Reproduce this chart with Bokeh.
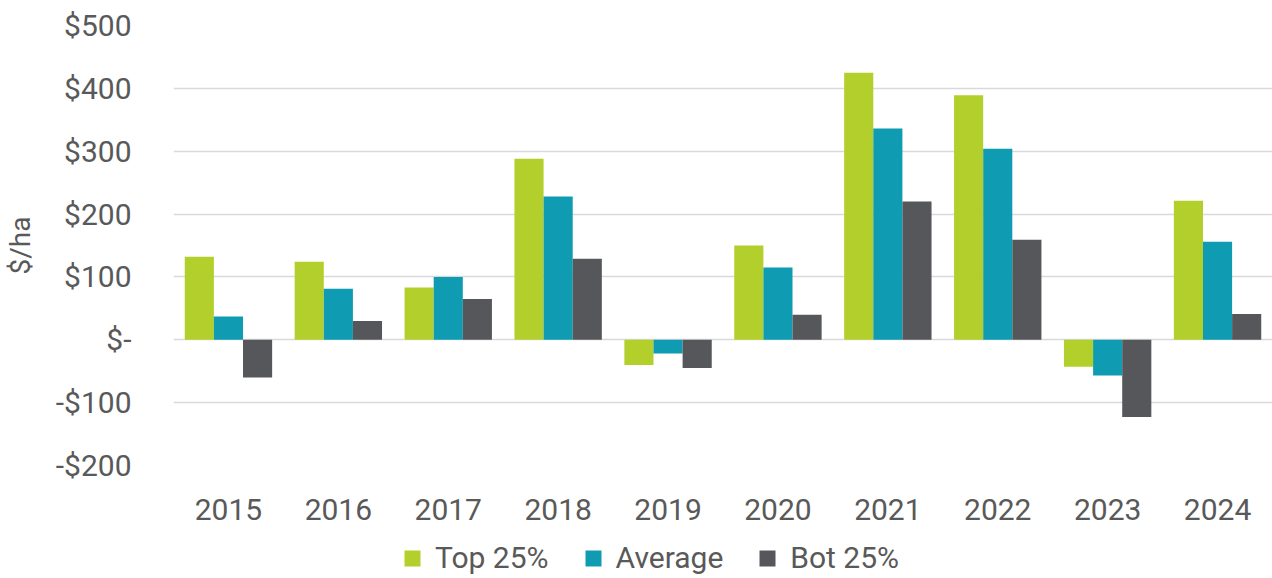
from bokeh.plotting import figure
from bokeh.layouts import column
from bokeh.models import ColumnDataSource, FactorRange, Legend, LegendItem, CustomJSTickFormatter, FixedTicker, Range1d
from bokeh.transform import dodge
from bokeh.embed import file_html
from bokeh.resources import INLINE

years = ["2015", "2016", "2017", "2018", "2019", "2020", "2021", "2022", "2023", "2024"]
top25 = [132, 124, 83, 288, -40, 150, 425, 389, -43, 221]
average = [37, 81, 100, 228, -22, 115, 336, 304, -57, 156]
bot25 = [-60, 30, 65, 129, -45, 40, 220, 159, -123, 41]
series_names = ["Top 25%", "Average", "Bot 25%"]
y_ticks = [-200, -100, 0, 100, 200, 300, 400, 500]

colors = ["#B3CF2B", "#0F9CB2", "#55575A"]
text_color = "#595959"
font = "Roboto"

src = ColumnDataSource(dict(year=years, top=top25, avg=average, bot=bot25))

p = figure(x_range=FactorRange(*years), y_range=Range1d(-200, 500),
           frame_width=1099, frame_height=440, output_backend="svg", toolbar_location=None,
           min_border_left=173, min_border_right=0, min_border_top=25, min_border_bottom=60)

bw = 0.265
for field, off, c in zip(["top", "avg", "bot"], [-bw, 0, bw], colors):
    p.vbar(x=dodge("year", off, range=p.x_range), top=field, bottom=0, width=bw,
           source=src, fill_color=c, line_color=None)

p.outline_line_color = None
p.background_fill_color = "white"
p.border_fill_color = "white"

p.xgrid.visible = False
p.ygrid.grid_line_color = "#D9D9D9"
p.ygrid.grid_line_width = 1.5

p.yaxis.ticker = FixedTicker(ticks=y_ticks)
p.yaxis.formatter = CustomJSTickFormatter(code="""
if (tick == 0) { return "$-"; }
if (tick < 0) { return "-$" + Math.abs(tick); }
return "$" + tick;
""")
for ax in [p.xaxis[0], p.yaxis[0]]:
    ax.axis_line_color = None
    ax.major_tick_line_color = None
    ax.minor_tick_line_color = None
    ax.major_label_text_font = font
    ax.major_label_text_font_size = "30px"
    ax.major_label_text_color = text_color
p.yaxis.major_label_standoff = 36
p.xaxis.major_label_standoff = 27
p.yaxis.axis_label = "$/ha"
p.yaxis.axis_label_text_font = font
p.yaxis.axis_label_text_font_size = "28px"
p.yaxis.axis_label_text_font_style = "normal"
p.yaxis.axis_label_text_color = text_color
p.yaxis.axis_label_standoff = 16

# legend strip (separate figure so the legend is not clipped by the chart frame)
lf = figure(frame_width=1272, frame_height=53, output_backend="svg", toolbar_location=None,
            x_axis_type=None, y_axis_type=None, min_border=0,
            x_range=Range1d(0, 1), y_range=Range1d(0, 1))
lf.outline_line_color = None
lf.xgrid.visible = False
lf.ygrid.visible = False
# swatch renderers sit outside the strip's visible range; only their legend glyphs show
swatch = ColumnDataSource(dict(x=[-10.0], top=[-10.0]))
legend_renderers = [lf.vbar(x="x", top="top", bottom=-11, width=0.1, source=swatch,
                            fill_color=c, line_color=None) for c in colors]
legend = Legend(items=[LegendItem(label=n, renderers=[r]) for n, r in zip(series_names, legend_renderers)],
                orientation="horizontal", location=(402, 3),
                label_text_font=font, label_text_font_size="30px", label_text_color=text_color,
                glyph_width=20, glyph_height=20, label_standoff=13, spacing=34,
                padding=0, margin=0, border_line_color=None, background_fill_alpha=0)
lf.add_layout(legend, "center")

layout = column(p, lf, spacing=0)
open("out.html", "w").write(file_html(layout, INLINE))
